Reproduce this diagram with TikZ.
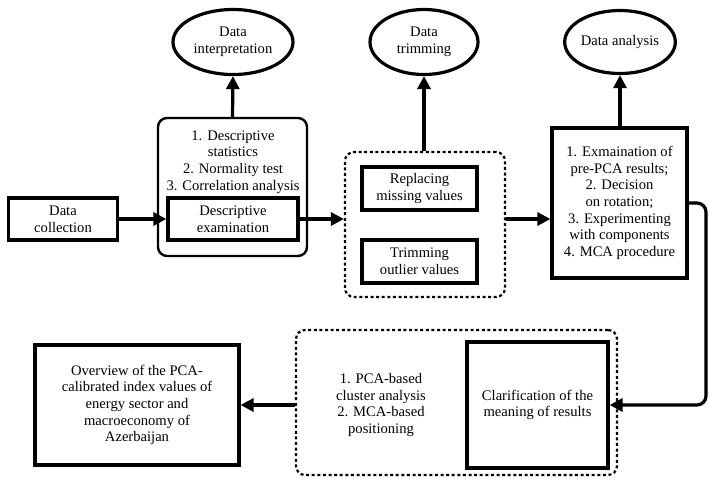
\documentclass[tikz,border=0pt]{standalone}
\usepackage{fontspec}
\setmainfont{Liberation Serif}
\usetikzlibrary{arrows.meta,shapes.geometric,calc}
\begin{document}
\begin{tikzpicture}[x=1pt,y=-1pt,
  every node/.style={align=center,font=\fontsize{14.6}{16.7}\selectfont,inner sep=0pt},
  box/.style={draw,line width=3.2pt,rectangle},
  oval/.style={draw,line width=3.2pt,ellipse},
  grp/.style={draw,line width=2.2pt,dash pattern=on 3pt off 2.6pt,rounded corners=9pt,rectangle},
  rbox/.style={draw,line width=2.4pt,rounded corners=9pt,rectangle},
  arr/.style={line width=3.2pt,-{Triangle[length=13pt,width=13pt]}}]
\useasboundingbox (0,0) rectangle (709,480);
% top row
\node[box,minimum width=109pt,minimum height=42pt] (coll) at (63,219) {Data\\collection};
\node[rbox,minimum width=149pt,minimum height=138pt] (desc) at (232.5,187) {};
\node (list) at (233,162) {1. Descriptive\\statistics\\2. Normality test\\3. Correlation analysis};
\node[box,minimum width=130pt,minimum height=42pt] (inner) at (233,219) {Descriptive\\examination};
\node[oval,minimum width=120pt,minimum height=65pt] (interp) at (233,42) {Data\\interpretation};
\node[grp,minimum width=160pt,minimum height=145pt] (trimgrp) at (425,224.5) {};
\node[box,minimum width=115pt,minimum height=43pt] (repl) at (419.5,188.5) {Replacing\\missing values};
\node[box,minimum width=115pt,minimum height=43pt] (outl) at (419.5,261.5) {Trimming\\outlier values};
\node[oval,minimum width=108pt,minimum height=65pt] (trimell) at (424,42) {Data\\trimming};
\node[box,minimum width=135pt,minimum height=150pt] (anal) at (619.5,203) {1. Exmaination of\\pre-PCA results;\\2. Decision\\on rotation;\\3. Experimenting\\with components\\4. MCA procedure};
\node[oval,minimum width=108pt,minimum height=63pt] (anell) at (620,42) {Data analysis};
% bottom row
\node[grp,minimum width=321pt,minimum height=145pt] (botgrp) at (456.5,402.5) {};
\node[box,minimum width=141pt,minimum height=126pt] (clar) at (537.5,405) {Clarification of the\\meaning of results};
\node (pca) at (381,405) {1. PCA-based\\cluster analysis\\2. MCA-based\\positioning};
\node[box,minimum width=204pt,minimum height=120pt] (over) at (137,405) {Overview of the PCA-\\calibrated index values of\\energy sector and\\macroeconomy of\\Azerbaijan};
\coordinate (rc) at (706,0);
% connectors
\draw[arr] (coll.east) -- (inner.west);
\draw[arr] (inner.east) -- (inner.east -| trimgrp.west);
\draw[arr] (desc.north) -- (interp.south);
\draw[arr] (trimgrp.north -| trimell.south) -- (trimell.south);
\draw[arr] (inner.east -| trimgrp.east) -- (inner.east -| anal.west);
\draw[arr] (anal.north -| anell.south) -- (anell.south);
\draw[arr,rounded corners=9pt] (anal.east) -- (anal.east -| rc) |- (clar.east);
\draw[arr] (botgrp.west |- clar.east) -- (over.east |- clar.east);
\end{tikzpicture}
\end{document}
